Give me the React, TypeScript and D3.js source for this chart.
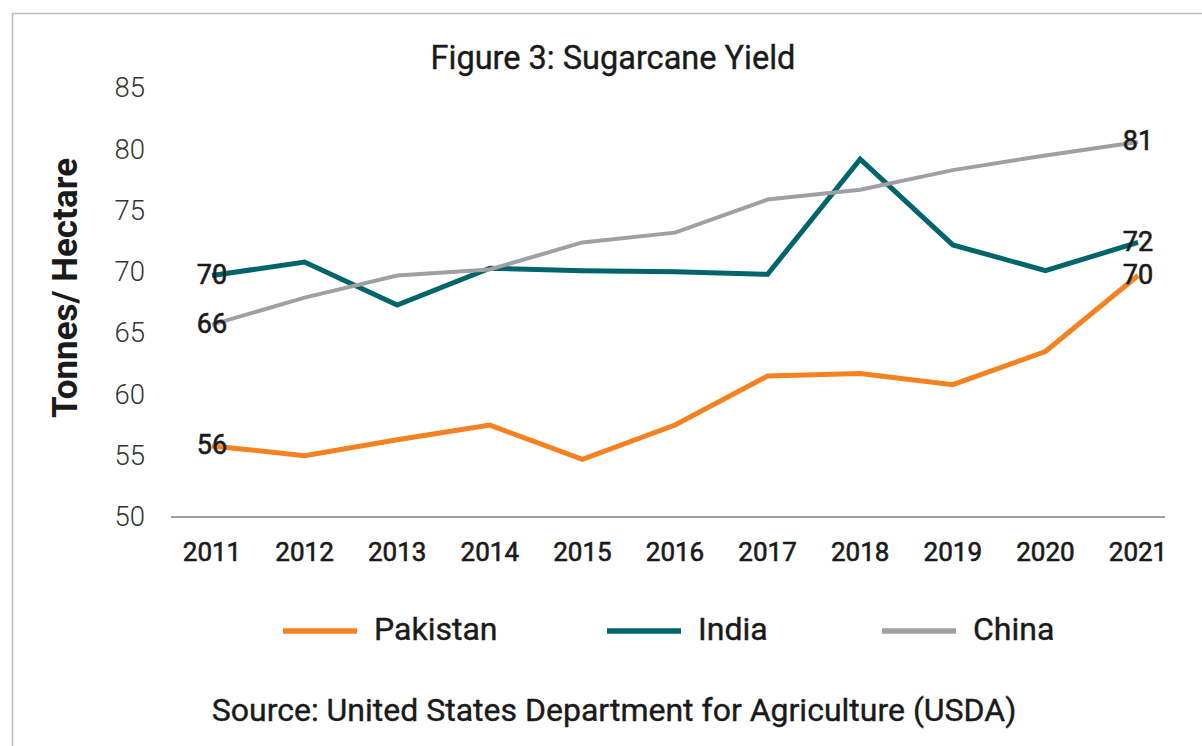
import * as d3 from "d3";

const years = [2011, 2012, 2013, 2014, 2015, 2016, 2017, 2018, 2019, 2020, 2021];
const pakistan = [55.8, 55.0, 56.3, 57.5, 54.7, 57.5, 61.5, 61.7, 60.8, 63.5, 69.7];
const india = [69.7, 70.8, 67.3, 70.3, 70.1, 70.0, 69.8, 79.2, 72.2, 70.1, 72.4];
const china = [65.7, 67.9, 69.7, 70.2, 72.4, 73.2, 75.9, 76.7, 78.3, 79.5, 80.6];
const yTicks = [50, 55, 60, 65, 70, 75, 80, 85];

const series = [
  { name: "Pakistan", values: pakistan, color: "#F58220", width: 5 },
  { name: "India", values: india, color: "#00656B", width: 5 },
  { name: "China", values: china, color: "#A0A0A4", width: 4 },
];

export default function App() {
  const width = 1202;
  const height = 746;
  const font = "Roboto, 'Noto Sans', sans-serif";

  const x = d3.scalePoint<number>().domain(years).range([212, 1138]);
  const y = d3.scaleLinear().domain([50, 85]).range([517, 88]);

  const line = d3
    .line<number>()
    .x((_, i) => x(years[i]) ?? 0)
    .y((d) => y(d));

  const legendX = [283, 607, 882];

  return (
    <svg
      width={width}
      height={height}
      style={{ position: "absolute", left: 0, top: 0, background: "#fff" }}
      fontFamily={font}
    >
      {/* frame */}
      <rect x={12.5} y={13.5} width={1300} height={800} fill="#fff" stroke="#BDBDBD" strokeWidth={1.5} />

      <text x={613} y={60} textAnchor="middle" dominantBaseline="middle" fontSize={32.5} fontWeight={400} fill="#1a1a1a" stroke="#1a1a1a" strokeWidth={0.4}>
        Figure 3: Sugarcane Yield
      </text>

      {/* y axis label */}
      <text
        transform={`translate(68,288) rotate(-90)`}
        textAnchor="middle"
        dominantBaseline="middle"
        fontSize={35}
        fontWeight={700}
        fill="#1a1a1a"
      >
        Tonnes/ Hectare
      </text>

      {/* y ticks */}
      {yTicks.map((t) => (
        <text key={t} x={145} y={y(t) + 2} textAnchor="end" dominantBaseline="middle" fontSize={27.5} fontWeight={300} fill="#333">
          {t}
        </text>
      ))}

      {/* baseline */}
      <line x1={171} x2={1165} y1={y(50)} y2={y(50)} stroke="#7f7f7f" strokeWidth={1.5} />

      {/* x labels */}
      {years.map((yr) => (
        <text key={yr} x={x(yr)} y={554} textAnchor="middle" dominantBaseline="middle" fontSize={26} fontWeight={400} fill="#1a1a1a" stroke="#1a1a1a" strokeWidth={0.6}>
          {yr}
        </text>
      ))}

      {/* lines */}
      {series.map((s) => (
        <path key={s.name} d={line(s.values) ?? ""} fill="none" stroke={s.color} strokeWidth={s.width} strokeLinejoin="miter" />
      ))}

      {/* data labels at first and last points */}
      {series.map((s) =>
        [0, years.length - 1].map((i) => (
          <text
            key={s.name + i}
            x={x(years[i])}
            y={y(s.values[i]) + 1}
            textAnchor="middle"
            dominantBaseline="middle"
            fontSize={27}
            fontWeight={400}
            fill="#1a1a1a"
            stroke="#1a1a1a"
            strokeWidth={0.6}
          >
            {Math.round(s.values[i])}
          </text>
        ))
      )}

      {/* legend */}
      {series.map((s, i) => (
        <g key={s.name} transform={`translate(${legendX[i]},631)`}>
          <line x1={0} x2={74} y1={0} y2={0} stroke={s.color} strokeWidth={5.5} />
          <text x={91} y={1} dominantBaseline="middle" fontSize={32} fontWeight={400} fill="#1a1a1a" stroke="#1a1a1a" strokeWidth={0.4}>
            {s.name}
          </text>
        </g>
      ))}

      <text x={614} y={713} textAnchor="middle" dominantBaseline="middle" fontSize={32} fontWeight={400} fill="#1a1a1a" stroke="#1a1a1a" strokeWidth={0.4}>
        Source: United States Department for Agriculture (USDA)
      </text>
    </svg>
  );
}
